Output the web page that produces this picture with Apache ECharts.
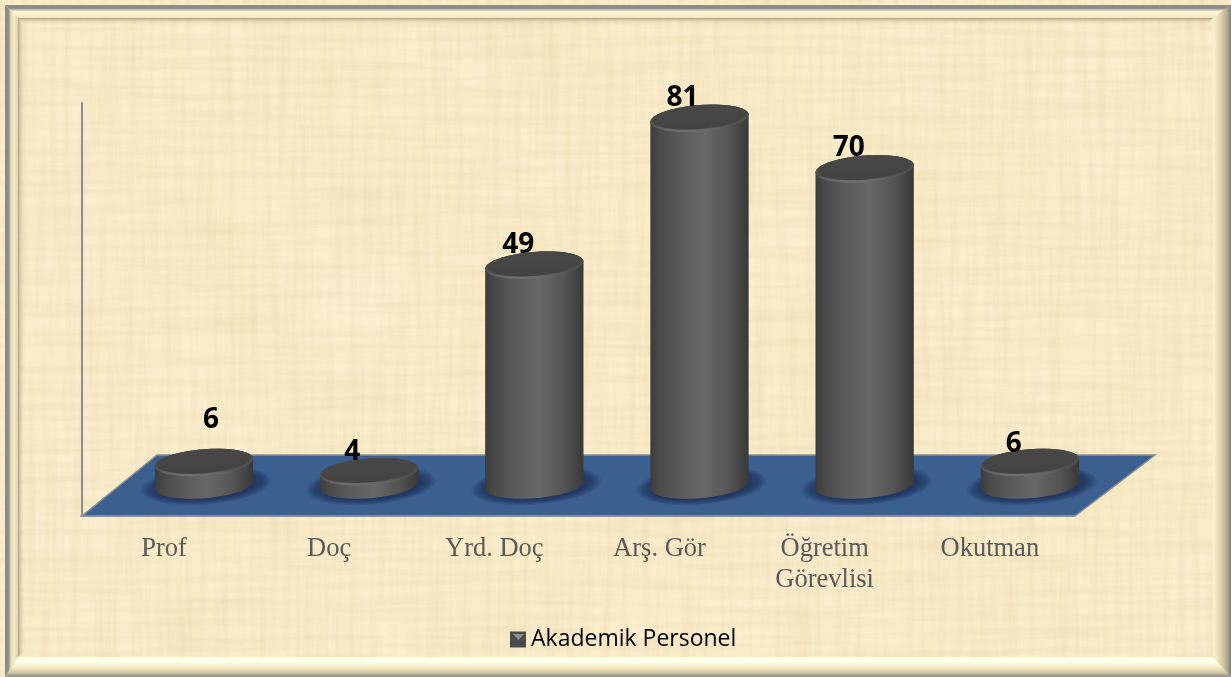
<!DOCTYPE html>
<html lang="tr">
<head>
<meta charset="utf-8">
<title>Akademik Personel</title>
<style>
html,body{margin:0;padding:0;width:1231px;height:677px;overflow:hidden;background:#f9edcb;}
#tex{position:absolute;left:0;top:0;width:1231px;height:677px;}
#chart{position:absolute;left:0;top:0;width:1231px;height:677px;}
</style>
<script src="https://cdn.jsdelivr.net/npm/echarts@6/dist/echarts.min.js"></script>
</head>
<body>
<svg id="tex" xmlns="http://www.w3.org/2000/svg" width="1231" height="677">
  <defs>
    <filter id="fibreA" x="0" y="0" width="100%" height="100%">
      <feTurbulence type="fractalNoise" baseFrequency="0.14 0.007" numOctaves="3" seed="4"/>
      <feColorMatrix type="matrix" values="0 0 0 0 0.80  0 0 0 0 0.64  0 0 0 0 0.38  1.5 0 0 0 -0.58"/>
    </filter>
    <filter id="fibreB" x="0" y="0" width="100%" height="100%">
      <feTurbulence type="fractalNoise" baseFrequency="0.007 0.14" numOctaves="3" seed="9"/>
      <feColorMatrix type="matrix" values="0 0 0 0 0.82  0 0 0 0 0.66  0 0 0 0 0.40  1.5 0 0 0 -0.58"/>
    </filter>
    <filter id="blotch" x="0" y="0" width="100%" height="100%">
      <feTurbulence type="fractalNoise" baseFrequency="0.007 0.009" numOctaves="2" seed="21"/>
      <feColorMatrix type="matrix" values="0 0 0 0 1  0 0 0 0 0.84  0 0 0 0 0.68  1.8 0 0 0 -0.66"/>
    </filter>
  </defs>
  <rect width="1231" height="677" fill="#f9edc9"/>
  <rect width="1231" height="677" filter="url(#blotch)" opacity="0.6"/>
  <rect width="1231" height="677" filter="url(#fibreA)" opacity="0.42"/>
  <rect width="1231" height="677" filter="url(#fibreB)" opacity="0.42"/>
</svg>
<div id="chart"></div>
<script>
const categories = ['Prof', 'Doç', 'Yrd. Doç', 'Arş. Gör', 'Öğretim\nGörevlisi', 'Okutman'];
const values = [6, 4, 49, 81, 70, 6];
const seriesName = 'Akademik Personel';

// value label placement relative to the cylinder top (hand-placed in the source chart)
const labelShiftX = [7, -17, -16, -17, -16, -16];
const labelShiftY = [-42, -20, -20, -20, -21, -18];

const chart = echarts.init(document.getElementById('chart'), null, {renderer: 'canvas'});

const DEPTH_X = 40, DEPTH_TOP = -26, DEPTH_BASE = -31;
const RX = 49.3, RY = 13.2, TILT = -4.6 * Math.PI / 180;

function arc(cx, cy, a, b, from, to, n) {
  const pts = [];
  for (let i = 0; i <= n; i++) {
    const t = from + (to - from) * i / n;
    pts.push([
      cx + a * Math.cos(t) * Math.cos(TILT) - b * Math.sin(t) * Math.sin(TILT),
      cy + a * Math.cos(t) * Math.sin(TILT) + b * Math.sin(t) * Math.cos(TILT)
    ]);
  }
  return pts;
}
function ellipse(cx, cy, a, b) { return arc(cx, cy, a, b, 0, Math.PI * 2, 72); }

function renderCylinder(params, api) {
  const i = api.value(0);
  const top = api.coord([i, api.value(1)]);
  const zero = api.coord([i, 0]);
  const cx = top[0] + DEPTH_X;
  const topY = top[1] + DEPTH_TOP;
  const baseY = zero[1] + DEPTH_BASE;
  const tR = Math.atan2(-RY * Math.sin(TILT), RX * Math.cos(TILT));
  const body = arc(cx, baseY, RX, RY, tR, tR + Math.PI, 48)
    .concat(arc(cx, topY, RX, RY, tR + Math.PI, tR + 2 * Math.PI, 48));
  const sideFill = new echarts.graphic.LinearGradient(0, 0, 1, 0, [
    {offset: 0, color: '#3c3c3c'},
    {offset: 0.1, color: '#4a4a4a'},
    {offset: 0.3, color: '#5a5a5a'},
    {offset: 0.55, color: '#676767'},
    {offset: 0.8, color: '#545454'},
    {offset: 1, color: '#383838'}
  ]);
  const rimFill = new echarts.graphic.LinearGradient(0, 0, 0, 1, [
    {offset: 0, color: '#474747'},
    {offset: 0.75, color: '#525252'},
    {offset: 1, color: '#727272'}
  ]);
  const capFill = new echarts.graphic.LinearGradient(0, 0, 0, 1, [
    {offset: 0, color: '#484848'},
    {offset: 1, color: '#424242'}
  ]);
  // soft contact shadow on the floor: stacked translucent ellipses
  const shadow = [];
  const rings = 14;
  for (let k = rings; k >= 1; k--) {
    shadow.push({type: 'polygon',
      shape: {points: ellipse(cx + 2, baseY + 0.5, RX + k * 1.15, RY + k * 0.42)},
      style: {fill: 'rgba(24,40,74,0.075)'}});
  }
  return {
    type: 'group',
    children: shadow.concat([
      {type: 'polygon', shape: {points: body}, style: {fill: sideFill}},
      {type: 'polygon', shape: {points: ellipse(cx, topY, RX, RY)}, style: {fill: rimFill}},
      {type: 'polygon', shape: {points: ellipse(cx - 0.3, topY - 1.2, RX - 2, RY - 1.3)},
        style: {fill: capFill}},
      {type: 'text',
        style: {
          x: cx + labelShiftX[i], y: topY + labelShiftY[i],
          text: String(api.value(1)), fill: '#000',
          font: 'bold 28px "Open Sans", sans-serif',
          align: 'center', verticalAlign: 'middle'
        }, z2: 10}
    ])
  };
}

function grad(x0, y0, x1, y1, stops) {
  return new echarts.graphic.LinearGradient(x0, y0, x1, y1,
    stops.map((c, k) => ({offset: k / (stops.length - 1), color: c})));
}
function band(points, fill) { return {type: 'polygon', z: -5, silent: true, shape: {points}, style: {fill}}; }

const frame = [
  band([[5,5],[1231,5],[1213,18],[18,18]], grad(0,0,0,1,['#8c8c8c','#8c8c8c','#fff6d6','#fbf0cc','#f4e6bd'])),
  band([[5,5],[18,18],[18,657],[5,677]], grad(0,0,1,0,['#8c8c8c','#8c8c8c','#f0e3c0','#f6ebc6','#ddd0ab'])),
  band([[18,657],[1213,657],[1231,677],[5,677]], grad(0,0,0,1,['#fffde6','#fffde6','#f7edc8','#d9cda8','#8f8f88'])),
  band([[1213,18],[1231,5],[1231,677],[1213,657]], grad(0,0,1,0,['#fbf3d0','#efe2bc','#d9cca6','#b9ae92','#7f7f7a'])),
  band([[18,18],[1213,18],[1207,25],[25,25]], grad(0,0,0,1,['rgba(150,140,115,0.75)','rgba(190,175,140,0.25)','rgba(220,205,165,0)'])),
  band([[18,18],[25,25],[25,650],[18,657]], grad(0,0,1,0,['rgba(150,140,115,0.75)','rgba(190,175,140,0.25)','rgba(220,205,165,0)']))
];

const floor = {
  type: 'polygon', z: -2, silent: true,
  shape: {points: [[82,516],[1075,516],[1155,455],[157,455]]},
  style: {fill: '#3b608f', stroke: '#8a8f96', lineWidth: 1.5}
};
const legendMark = {
  type: 'polygon', z: 30, silent: true,
  shape: {points: [[513,634],[524,634],[518.5,640]]},
  style: {fill: '#8f8f8f'}
};

chart.setOption({
  animation: false,
  backgroundColor: 'transparent',
  grid: {left: 81.4, width: 991, top: 103, height: 413, containLabel: false},
  xAxis: {
    type: 'category',
    data: categories,
    axisTick: {show: false},
    axisLine: {show: true, lineStyle: {color: '#8a8f96', width: 2}},
    axisLabel: {
      interval: 0, margin: 18, color: '#5a5a5a',
      fontFamily: '"Liberation Serif", serif', fontSize: 26.5, lineHeight: 31
    }
  },
  yAxis: {
    type: 'value', min: 0, max: 90,
    splitLine: {show: false},
    axisTick: {show: false},
    axisLabel: {show: false},
    axisLine: {show: true, lineStyle: {color: '#8a8f96', width: 2}}
  },
  legend: {
    left: 510, top: 628, padding: 0,
    itemWidth: 16, itemHeight: 16,
    icon: 'rect',
    data: [seriesName],
    selectedMode: false,
    textStyle: {color: '#000', fontFamily: '"Open Sans", sans-serif', fontSize: 23, padding: [0,0,3,0]}
  },
  graphic: {elements: frame.concat([floor, legendMark])},
  series: [{
    name: seriesName,
    type: 'custom',
    z: 5,
    clip: false,
    coordinateSystem: 'cartesian2d',
    itemStyle: {color: '#4a4a4a'},
    encode: {x: 0, y: 1},
    renderItem: renderCylinder,
    data: values.map((v, i) => [i, v])
  }]
});
</script>
</body>
</html>
